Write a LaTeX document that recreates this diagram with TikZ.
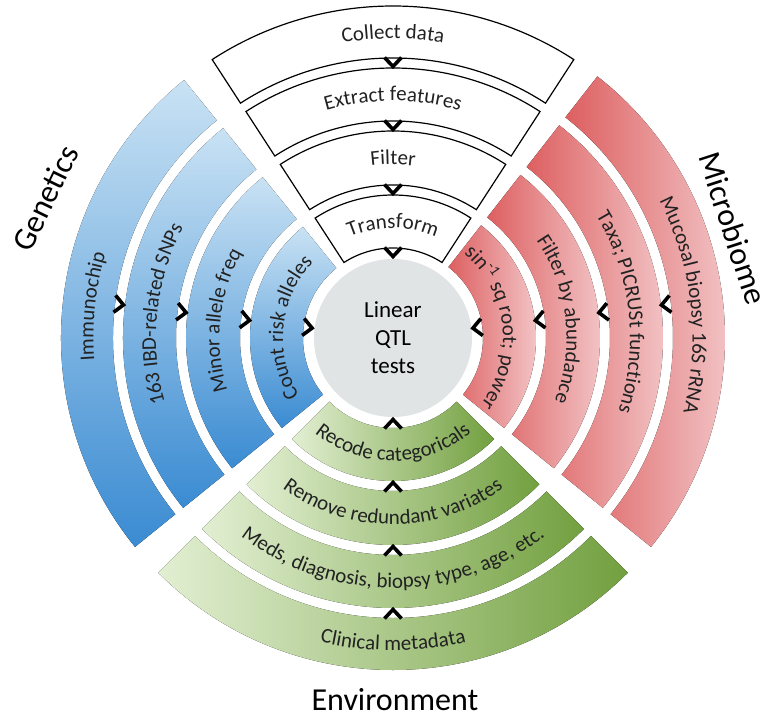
\documentclass[tikz,border=0pt]{standalone}
\usepackage{fontspec}
\setmainfont{Carlito}
\usetikzlibrary{decorations.text}

\definecolor{bluelight}{HTML}{C9E2F4}
\definecolor{bluedark}{HTML}{3A8BD2}
\definecolor{redlight}{HTML}{F4CDCF}
\definecolor{reddark}{HTML}{DD5F60}
\definecolor{greenlight}{HTML}{E2EFD2}
\definecolor{greendark}{HTML}{72A03F}
\definecolor{centregray}{HTML}{E1E4E4}
\definecolor{labelink}{HTML}{222222}

\newcommand{\bandfont}{\fontsize{21}{25}\selectfont}
\newcommand{\titlefont}{\fontsize{32}{38}\selectfont}

\tikzset{
  workbox/.style={fill=white,draw=black,line width=1.2pt},
  chevron/.pic={\draw[line width=3.6pt,black] (-8.5pt,4.5pt) -- (0pt,-4.5pt) -- (8.5pt,4.5pt);},
  bandtext/.style={decorate,decoration={text along path,text align=center,text color=labelink,text/.expanded=#1}},
}

\begin{document}
\begin{tikzpicture}[line join=miter]
	\useasboundingbox (-393pt,-382pt) rectangle (378pt,338pt);
	% centre
	\node[circle,fill=centregray,minimum size=158pt,align=center,text=black,font=\fontsize{23}{28}\selectfont] (qtl) at (0,0) {Linear\\QTL\\tests};
	% workflow, top
	\foreach \rin/\rout/\lbl in {90/143/Transform,153/207/Filter,217/270/Extract features,280/332/Collect data}{
		\pgfmathsetmacro{\rlbl}{(\rin+\rout)/2-6.5}
		\pgfmathsetmacro{\rchev}{\rin-4}
		\filldraw[workbox] (57:\rout pt) arc[start angle=57,end angle=123,radius=\rout pt] -- (123:\rin pt) arc[start angle=123,end angle=57,radius=\rin pt] -- cycle;
		\bandfont
		\path[bandtext=\lbl] (123:\rlbl pt) arc[start angle=123,end angle=57,radius=\rlbl pt];
		\pic at (90:\rchev pt) {chevron};
	}
	% genetics, left
	\foreach \rin/\rout/\lbl in {90/143/Count risk alleles,153/207/Minor allele freq,217/270/163 IBD-related SNPs,280/332/Immunochip}{
		\pgfmathsetmacro{\rlbl}{(\rin+\rout)/2-6.5}
		\pgfmathsetmacro{\rchev}{\rin-4}
		\fill[top color=bluelight,bottom color=bluedark] (129:\rout pt) arc[start angle=129,end angle=219,radius=\rout pt] -- (219:\rin pt) arc[start angle=219,end angle=129,radius=\rin pt] -- cycle;
		\bandfont
		\path[bandtext=\lbl] (219:\rlbl pt) arc[start angle=219,end angle=129,radius=\rlbl pt];
		\pic[rotate=83] at (173:\rchev pt) {chevron};
	}
	% microbiome, right
	\foreach \rin/\rout/\lbl in {90/143/sin{\noexpand\textsuperscript{-1}} sq root; power,153/207/Filter by abundance,217/270/Taxa; PICRUSt functions,280/332/Mucosal biopsy 16S rRNA}{
		\pgfmathsetmacro{\rlbl}{(\rin+\rout)/2-6.5}
		\pgfmathsetmacro{\rchev}{\rin-5}
		\fill[left color=reddark,right color=redlight] (-39:\rout pt) arc[start angle=-39,end angle=52,radius=\rout pt] -- (52:\rin pt) arc[start angle=52,end angle=-39,radius=\rin pt] -- cycle;
		\bandfont
		\path[bandtext=\lbl] (52:\rlbl pt) arc[start angle=52,end angle=-39,radius=\rlbl pt];
		\pic[rotate=-83] at (7:\rchev pt) {chevron};
	}
	% environment, bottom
	\foreach \rin/\rout/\lbl in {90/143/Recode categoricals,153/207/Remove redundant variates,217/270/{Meds, diagnosis, biopsy type, age, etc.},280/332/Clinical metadata}{
		\pgfmathsetmacro{\rlbl}{(\rin+\rout)/2+6.5}
		\pgfmathsetmacro{\rchev}{\rin-4}
		\fill[left color=greenlight,right color=greendark] (225:\rout pt) arc[start angle=225,end angle=315,radius=\rout pt] -- (315:\rin pt) arc[start angle=315,end angle=225,radius=\rin pt] -- cycle;
		\bandfont
		\path[bandtext=\lbl] (225:\rlbl pt) arc[start angle=225,end angle=315,radius=\rlbl pt];
		\pic[rotate=180] at (270:\rchev pt) {chevron};
	}
	% titles
	\node[font=\titlefont,rotate=64] (genetics) at (-348pt,140pt) {Genetics};
	\node[font=\titlefont,rotate=-72] (microbiome) at (340pt,110pt) {Microbiome};
	\node[font=\titlefont,inner sep=0pt] (environment) at (2pt,-362pt) {Environment};
\end{tikzpicture}
\end{document}
